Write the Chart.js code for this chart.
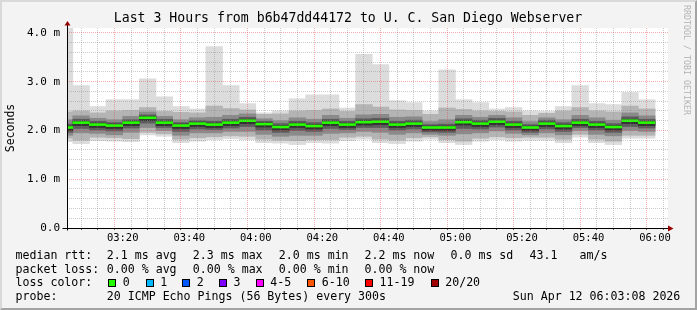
<!DOCTYPE html>
<html>
<head>
<meta charset="utf-8">
<script src="https://cdn.jsdelivr.net/npm/chart.js@4.4.1/dist/chart.umd.min.js"></script>
<style>
  html, body { margin: 0; padding: 0; background: #f3f3f3; }
  #wrap { position: relative; width: 697px; height: 310px; overflow: hidden; background: #f3f3f3;
          font-family: "DejaVu Sans Mono", monospace; color: #000; }
  #wrap canvas { position: absolute; left: 0; top: 0; }
  .frame { position: absolute; left: 0; top: 0; width: 697px; height: 310px; box-sizing: border-box;
           border: 2px solid; border-color: #d9d9d9 #a3a3a3 #a3a3a3 #d9d9d9; pointer-events: none; }
  .title { position: absolute; left: 0; width: 696px; top: 10px; text-align: center;
           font-size: 13.2px; line-height: 16px; white-space: pre; }
  .lg { position: absolute; font-size: 11.6px; line-height: 14px; white-space: pre; }
  .sw { position: absolute; width: 6px; height: 6px; border: 1px solid #000; }
  .wm { position: absolute; font-size: 8.3px; line-height: 10px; color: #b4b4b4; white-space: pre;
        transform: rotate(90deg); transform-origin: 0 0; }
</style>
</head>
<body>
<div id="wrap">
  <canvas id="chart" width="697" height="310"></canvas>
  <div class="title">Last 3 Hours from b6b47dd44172 to U. C. San Diego Webserver</div>
  <div class="wm" style="left:692px; top:5px">RRDTOOL / TOBI OETIKER</div>
  <div id="legend"></div>
  <div class="frame"></div>
</div>
<script>
// Smokeping: 3 soatlik ping "tutuni" (5 daqiqalik interval, 20 ping).

const MONO = '"DejaVu Sans Mono", monospace';

// interval boshlanishi (har biri 5 daqiqa)
const slotStart = [
  "03:00", "03:05", "03:10", "03:15", "03:20", "03:25", "03:30", "03:35", "03:40", "03:45", "03:50", "03:55",
  "04:00", "04:05", "04:10", "04:15", "04:20", "04:25", "04:30", "04:35", "04:40", "04:45", "04:50", "04:55",
  "05:00", "05:05", "05:10", "05:15", "05:20", "05:25", "05:30", "05:35", "05:40", "05:45", "05:50", "05:55",
];

// ms
const medianRtt = [2.06, 2.16, 2.12, 2.10, 2.16, 2.26, 2.16, 2.10, 2.14, 2.12, 2.16, 2.20,
                   2.13, 2.07, 2.12, 2.09, 2.16, 2.12, 2.17, 2.18, 2.12, 2.14, 2.06, 2.06,
                   2.17, 2.14, 2.18, 2.12, 2.06, 2.14, 2.09, 2.16, 2.12, 2.07, 2.20, 2.16];
const maxRtt    = [4.20, 2.92, 2.49, 2.63, 2.63, 3.06, 2.69, 2.49, 2.44, 3.72, 2.92, 2.55,
                   2.36, 2.40, 2.65, 2.73, 2.73, 2.46, 3.56, 3.35, 2.61, 2.57, 2.40, 3.24,
                   2.63, 2.57, 2.44, 2.47, 2.40, 2.39, 2.49, 2.92, 2.55, 2.53, 2.78, 2.63];
const minRtt    = [1.77, 1.73, 1.79, 1.78, 1.77, 1.91, 1.88, 1.75, 1.78, 1.81, 1.83, 1.81,
                   1.75, 1.74, 1.71, 1.75, 1.74, 1.79, 1.82, 1.75, 1.73, 1.78, 1.82, 1.75,
                   1.71, 1.78, 1.81, 1.78, 1.80, 1.80, 1.75, 1.86, 1.75, 1.71, 1.84, 1.84];

// ichki qatlamlar (tashqaridan ichkariga)
const band1Hi = [2.38, 2.40, 2.36, 2.40, 2.41, 2.47, 2.39, 2.37, 2.36, 2.50, 2.45, 2.42,
                 2.33, 2.34, 2.40, 2.41, 2.44, 2.39, 2.53, 2.48, 2.42, 2.41, 2.33, 2.46,
                 2.43, 2.40, 2.39, 2.38, 2.31, 2.35, 2.40, 2.47, 2.40, 2.38, 2.50, 2.44];
const band1Lo = [1.84, 1.80, 1.86, 1.85, 1.83, 1.96, 1.93, 1.82, 1.85, 1.87, 1.89, 1.88,
                 1.82, 1.80, 1.79, 1.81, 1.81, 1.86, 1.88, 1.82, 1.80, 1.85, 1.87, 1.81,
                 1.78, 1.84, 1.87, 1.85, 1.86, 1.86, 1.82, 1.92, 1.82, 1.78, 1.90, 1.90];
const band2Hi = [2.22, 2.30, 2.25, 2.22, 2.29, 2.38, 2.29, 2.22, 2.26, 2.27, 2.31, 2.34,
                 2.24, 2.20, 2.26, 2.23, 2.31, 2.25, 2.32, 2.33, 2.27, 2.28, 2.18, 2.22,
                 2.31, 2.27, 2.31, 2.26, 2.18, 2.26, 2.22, 2.31, 2.26, 2.21, 2.36, 2.30];
const band2Lo = [1.90, 1.95, 1.94, 1.91, 1.96, 2.06, 2.00, 1.90, 1.95, 1.95, 1.98, 1.98,
                 1.92, 1.88, 1.90, 1.90, 1.94, 1.95, 1.98, 1.96, 1.92, 1.95, 1.92, 1.90,
                 1.93, 1.95, 1.99, 1.94, 1.91, 1.95, 1.91, 2.00, 1.92, 1.89, 2.00, 1.98];
const band3Hi = [2.13, 2.23, 2.19, 2.16, 2.22, 2.32, 2.23, 2.16, 2.20, 2.19, 2.23, 2.27,
                 2.19, 2.14, 2.19, 2.16, 2.23, 2.19, 2.24, 2.25, 2.19, 2.21, 2.12, 2.13,
                 2.24, 2.21, 2.25, 2.19, 2.12, 2.21, 2.16, 2.23, 2.19, 2.14, 2.28, 2.23];
const band3Lo = [1.96, 2.04, 2.01, 1.99, 2.05, 2.15, 2.06, 1.98, 2.03, 2.02, 2.05, 2.08,
                 2.01, 1.96, 2.00, 1.98, 2.04, 2.02, 2.06, 2.06, 2.01, 2.03, 1.97, 1.96,
                 2.04, 2.03, 2.07, 2.01, 1.96, 2.03, 1.98, 2.06, 2.01, 1.96, 2.08, 2.05];
const band4Hi = [2.09, 2.19, 2.15, 2.13, 2.19, 2.29, 2.19, 2.13, 2.17, 2.15, 2.19, 2.23,
                 2.16, 2.10, 2.15, 2.12, 2.19, 2.15, 2.20, 2.21, 2.15, 2.17, 2.09, 2.09,
                 2.20, 2.17, 2.21, 2.15, 2.09, 2.17, 2.12, 2.19, 2.15, 2.10, 2.23, 2.19];
const band4Lo = [2.00, 2.10, 2.06, 2.04, 2.10, 2.20, 2.10, 2.04, 2.08, 2.06, 2.10, 2.14,
                 2.07, 2.01, 2.06, 2.03, 2.10, 2.06, 2.11, 2.12, 2.06, 2.08, 2.00, 2.00,
                 2.11, 2.08, 2.12, 2.06, 2.00, 2.08, 2.03, 2.10, 2.06, 2.01, 2.14, 2.10];

const xTickLabels = ["03:20", "03:40", "04:00", "04:20", "04:40", "05:00", "05:20", "05:40", "06:00"];
const yTickLabels = ["0.0", "1.0 m", "2.0 m", "3.0 m", "4.0 m"];

const toMin = (s) => { const [h, m] = s.split(":").map(Number); return h * 60 + m; };
const fmtMin = (v) => `${String(Math.floor(v / 60)).padStart(2, "0")}:${String(Math.round(v % 60)).padStart(2, "0")}`;

const slotX = slotStart.map((s) => toMin(s) + 2.5);

const layers = [
  { lo: minRtt,  hi: maxRtt,  color: "#dcdcdc" },
  { lo: band1Lo, hi: band1Hi, color: "#b4b4b4" },
  { lo: band2Lo, hi: band2Hi, color: "#8a8a8a" },
  { lo: band3Lo, hi: band3Hi, color: "#5c5c5c" },
  { lo: band4Lo, hi: band4Hi, color: "#333333" },
];

const barBase = { type: "bar", grouped: false, barPercentage: 1, categoryPercentage: 1, borderWidth: 0, clip: 0 };

// dataset 0 eng ustida chiziladi: median, keyin ichki -> tashqi qatlamlar
const datasets = [{
  ...barBase,
  label: "median",
  data: slotX.map((x, i) => ({ x, y: [medianRtt[i] - 0.02, medianRtt[i] + 0.02] })),
  backgroundColor: "#26ff00",
}];
for (const l of layers.slice().reverse()) {
  datasets.push({
    ...barBase,
    data: slotX.map((x, i) => ({ x, y: [l.lo[i], l.hi[i]] })),
    backgroundColor: l.color,
  });
}

const xGrid = [];
for (let t = 185; t <= 360; t += 5) xGrid.push(t);
const yGrid = [];
for (let i = 0; i <= 20; i++) yGrid.push(Math.round(i * 2) / 10);

const GRID = "rgba(140, 140, 140, 0.45)";
const MGRID = "rgba(235, 60, 60, 0.42)";

// oq fon, o'qlar va strelkalar (rrdtool uslubi)
const rrdFrame = {
  id: "rrdFrame",
  beforeDraw(chart) {
    const { ctx, chartArea: a } = chart;
    ctx.save();
    ctx.fillStyle = "#ffffff";
    ctx.fillRect(a.left, a.top, a.right - a.left, a.bottom - a.top);
    ctx.restore();
  },
  afterDraw(chart) {
    const { ctx, chartArea: a } = chart;
    const x0 = Math.round(a.left) + 0.5;
    const y0 = Math.round(a.bottom) + 0.5;
    ctx.save();
    ctx.strokeStyle = "#000";
    ctx.lineWidth = 1;
    ctx.beginPath();
    ctx.moveTo(x0 - 5, y0); ctx.lineTo(a.right + 1, y0);
    ctx.moveTo(x0, y0 + 2); ctx.lineTo(x0, a.top - 3);
    ctx.stroke();
    ctx.fillStyle = "#990000";
    ctx.beginPath();
    ctx.moveTo(x0 - 3, a.top - 2.5); ctx.lineTo(x0 + 3, a.top - 2.5); ctx.lineTo(x0, a.top - 7);
    ctx.closePath(); ctx.fill();
    ctx.beginPath();
    ctx.moveTo(a.right, y0 - 3); ctx.lineTo(a.right, y0 + 3); ctx.lineTo(a.right + 5.5, y0);
    ctx.closePath(); ctx.fill();
    ctx.restore();
  },
};

new Chart(document.getElementById("chart"), {
  type: "bar",
  data: { datasets },
  plugins: [rrdFrame],
  options: {
    responsive: false,
    animation: false,
    layout: { padding: { left: 0, right: 29, top: 28, bottom: 62 } },
    plugins: {
      legend: { display: false },
      tooltip: { enabled: false },
    },
    scales: {
      x: {
        type: "linear",
        min: 183.26,
        max: 363.9,
        offset: false,
        afterBuildTicks: (s) => { s.ticks = xGrid.map((v) => ({ value: v })); },
        afterFit: (s) => { s.height = 20; },
        grid: {
          z: 1,
          color: (c) => (c.tick && c.tick.value % 20 === 0 ? MGRID : GRID),
          drawTicks: true,
          tickLength: 2,
          tickColor: "#555",
          tickBorderDash: [],
        },
        border: { display: false, dash: [1, 1] },
        ticks: {
          autoSkip: false,
          maxRotation: 0,
          padding: 2,
          color: "#000",
          font: { family: MONO, size: 10.5 },
          callback: (v) => (xTickLabels.includes(fmtMin(v)) ? fmtMin(v) : ""),
        },
      },
      y: {
        min: 0,
        max: 4.1,
        afterBuildTicks: (s) => { s.ticks = yGrid.map((v) => ({ value: v })); },
        afterFit: (s) => { s.width = 67; },
        grid: {
          z: 1,
          drawTicks: false,
          color: (c) => {
            const v = c.tick ? c.tick.value : 0;
            if (v === 0) return "rgba(0,0,0,0)";
            return Math.abs(v - Math.round(v)) < 1e-6 ? MGRID : GRID;
          },
        },
        border: { display: false, dash: [1, 1] },
        title: {
          display: true,
          text: "Seconds",
          color: "#000",
          font: { family: MONO, size: 11.5, lineHeight: 1.2 },
          padding: { top: 4, bottom: 0 },
        },
        ticks: {
          autoSkip: false,
          padding: 7,
          color: "#000",
          font: { family: MONO, size: 11 },
          callback: (v) => (Math.abs(v - Math.round(v)) < 1e-6 ? yTickLabels[Math.round(v)] : ""),
        },
      },
    },
  },
});

// rrdtool legend (matn qatorlari)
const legendRows = [
  { top: 248, items: [[16, "median rtt:"], [107.3, "2.1 ms avg"], [193.3, "2.3 ms max"], [279.3, "2.0 ms min"],
                      [365, "2.2 ms now"], [451, "0.0 ms sd"], [530, "43.1"], [580, "am/s"]] },
  { top: 261.5, items: [[16, "packet loss:"], [107.3, "0.00 % avg"], [193.3, "0.00 % max"], [279.3, "0.00 % min"],
                        [365, "0.00 % now"]] },
  { top: 275.3, items: [[16, "loss color:"]] },
  { top: 289, items: [[16, "probe:"], [107.3, "20 ICMP Echo Pings (56 Bytes) every 300s"], [513.3, "Sun Apr 12 06:03:08 2026"]] },
];
const lossLabels = ["0", "1", "2", "3", "4-5", "6-10", "11-19", "20/20"];
const lossColors = ["#26ff00", "#00b8ff", "#0059ff", "#7e00ff", "#ff00ff", "#ff5500", "#ff0000", "#a10000"];
const lossBoxX = [108.3, 145.7, 182.3, 219, 255.7, 307.3, 365, 430.7];

const lg = document.getElementById("legend");
let html = "";
for (const row of legendRows) {
  for (const [x, t] of row.items) html += `<div class="lg" style="left:${x - 0.5}px; top:${row.top}px">${t}</div>`;
}
lossLabels.forEach((t, i) => {
  html += `<div class="sw" style="left:${lossBoxX[i]}px; top:278.5px; background:${lossColors[i]}"></div>`;
  html += `<div class="lg" style="left:${lossBoxX[i] + 14.5}px; top:275.3px">${t}</div>`;
});
lg.innerHTML = html;
</script>
</body>
</html>
